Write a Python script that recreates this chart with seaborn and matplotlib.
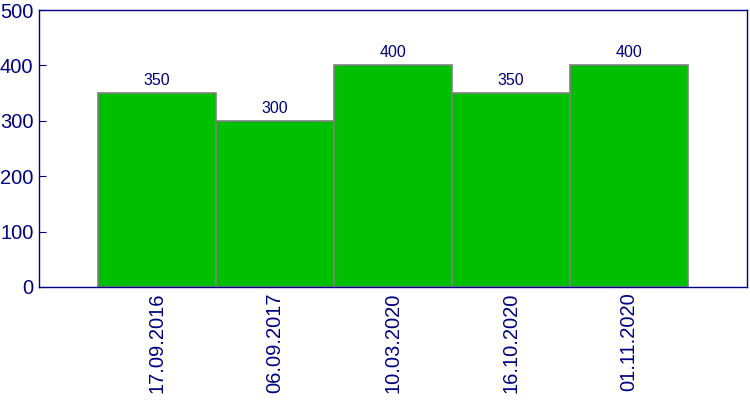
import matplotlib
matplotlib.use("Agg")
import matplotlib.pyplot as plt
import seaborn as sns
import pandas as pd

dates = ["17.09.2016", "06.09.2017", "10.03.2020", "16.10.2020", "01.11.2020"]
values = [350, 300, 400, 350, 400]

sns.set_style("white")
plt.rcParams['font.family'] = ['Liberation Sans', 'DejaVu Sans']

navy = "#000080"
df = pd.DataFrame({"date": dates, "value": values})

fig = plt.figure(figsize=(7.5, 4), dpi=100)
ax = fig.add_axes([0.052, 0.2825, 0.944, 0.6925])
sns.barplot(data=df, x="date", y="value", color="#00BF00", saturation=1,
            width=1.0, edgecolor="#808080", linewidth=1.2, ax=ax)

for i, v in enumerate(values):
    ax.text(i, v + 9, str(v), ha="center", va="bottom", color=navy, fontsize=11.5)

ax.set_xlim(-1.0, 5.0)
ax.set_ylim(0, 500)
ax.set_yticks([0, 100, 200, 300, 400, 500])
ax.set_xlabel("")
ax.set_ylabel("")
ax.tick_params(axis="y", direction="in", length=5, color=navy, labelcolor=navy,
               labelsize=14.5, left=True, pad=4)
ax.tick_params(axis="x", length=0, labelcolor=navy, labelsize=14.5, pad=4)
plt.setp(ax.get_xticklabels(), rotation=90)
for s in ax.spines.values():
    s.set_color(navy)
    s.set_linewidth(1)
    s.set_visible(True)

fig.savefig("out.png", dpi=100)
